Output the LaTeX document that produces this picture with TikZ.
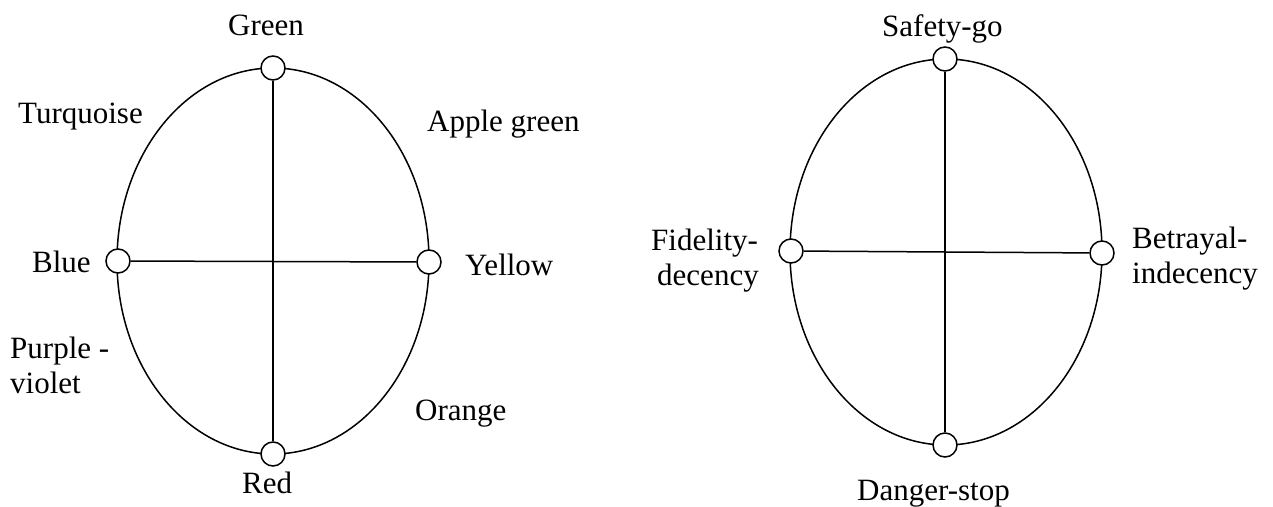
\documentclass[tikz,border=0pt]{standalone}
\usepackage{fontspec}
\setmainfont{Liberation Serif}
\tikzset{
  dot/.style={circle, draw=black, fill=white, line width=1.5pt, minimum size=24pt, inner sep=0pt},
  lbl/.style={inner sep=0pt, font=\fontsize{31}{35}\selectfont, align=left},
  ring/.style={line width=1.5pt},
  bar/.style={line width=1.5pt}
}
\begin{document}
\begin{tikzpicture}[x=1pt,y=-1pt]
\useasboundingbox (0,0) rectangle (1273,506);
% left ellipse
\coordinate (lc) at (273,261);
\draw[ring] (lc) ellipse [x radius=156pt, y radius=193pt];
\node[dot] (lg) at (273,68) {};
\node[dot] (lr) at (273,454) {};
\node[dot] (lb) at (118,261) {};
\node[dot] (ly) at (429,262) {};
\draw[bar] (lg) -- (lr);
\draw[bar] (lb) -- (ly);
\node[lbl, anchor=base west] (tgreen) at (228,35) {Green};
\node[lbl, anchor=base west] (tturq) at (18,123) {Turquoise};
\node[lbl, anchor=base west] (tapple) at (427,131) {Apple green};
\node[lbl, anchor=base west] (tblue) at (32,272) {Blue};
\node[lbl, anchor=base west] (tyellow) at (465,275) {Yellow};
\node[lbl, anchor=base west] (tpurple) at (10,393) {Purple -\\violet};
\node[lbl, anchor=base west] (torange) at (415,420) {Orange};
\node[lbl, anchor=base west] (tred) at (242,493) {Red};
% right ellipse
\coordinate (rc) at (946,252);
\draw[ring] (rc) ellipse [x radius=156pt, y radius=193pt];
\node[dot] (rs) at (945,59) {};
\node[dot] (rd) at (945,445) {};
\node[dot] (rf) at (791,251) {};
\node[dot] (rb) at (1102,253) {};
\draw[bar] (rs) -- (rd);
\draw[bar] (rf) -- (rb);
\node[lbl, anchor=base west] (tsafe) at (882,36) {Safety-go};
\node[lbl, anchor=base west] (tfid) at (651,285) {Fidelity-\\\hspace*{6pt}decency};
\node[lbl, anchor=base west] (tbet) at (1132,283) {Betrayal-\\indecency};
\node[lbl, anchor=base west] (tdang) at (857,500) {Danger-stop};
\end{tikzpicture}
\end{document}
